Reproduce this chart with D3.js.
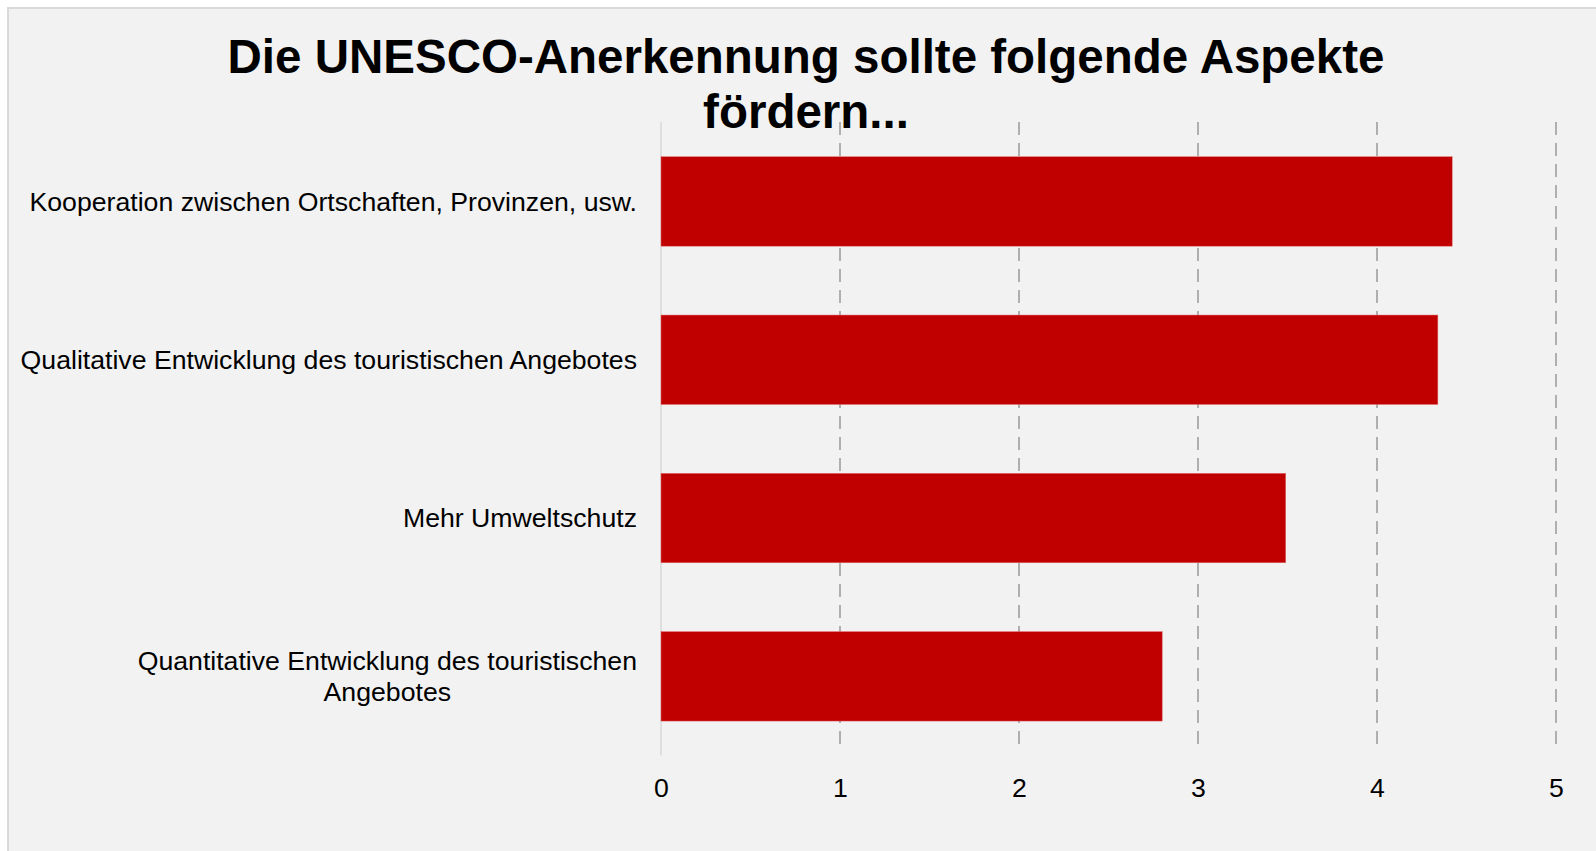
<!DOCTYPE html>
<html>
<head>
<meta charset="utf-8">
<script src="https://cdn.jsdelivr.net/npm/d3@7"></script>
<style>
  html, body { margin: 0; padding: 0; background: #ffffff; }
  svg { display: block; }
  text { font-family: "Liberation Sans", Arial, sans-serif; fill: #000; }
</style>
</head>
<body>
<svg id="chart" width="1596" height="851"></svg>
<script>
// ---- data ----
const titleLines = ["Die UNESCO-Anerkennung sollte folgende Aspekte", "fördern..."];
const categories = [
  "Kooperation zwischen Ortschaften, Provinzen, usw.",
  "Qualitative Entwicklung des touristischen Angebotes",
  "Mehr Umweltschutz",
  "Quantitative Entwicklung des touristischen\nAngebotes"
];
const values = [4.42, 4.34, 3.49, 2.80];
const tickValues = [0, 1, 2, 3, 4, 5];

// ---- layout ----
const W = 1596, H = 851;
const plot = { left: 661, right: 1556, top: 122.3, bottom: 755.5 };
const svg = d3.select("#chart");

svg.append("rect")
  .attr("x", 8).attr("y", 8)
  .attr("width", 1620).attr("height", 900)
  .attr("fill", "#f2f2f2")
  .attr("stroke", "#d9d9d9")
  .attr("stroke-width", 2);

const x = d3.scaleLinear().domain([0, 5]).range([plot.left, plot.right]);
const y = d3.scaleBand().domain(categories)
  .range([plot.top, plot.bottom])
  .paddingInner(0.435).paddingOuter(0.2175);

// gridlines
svg.append("g").selectAll("line")
  .data(tickValues)
  .join("line")
  .attr("x1", d => x(d)).attr("x2", d => x(d))
  .attr("y1", 122).attr("y2", d => d === 0 ? 755.5 : 752)
  .attr("stroke", d => d === 0 ? "#d9d9d9" : "#a6a6a6")
  .attr("stroke-width", d => d === 0 ? 1.5 : 1.75)
  .attr("stroke-dasharray", d => d === 0 ? null : "13,8");

// bars
svg.append("g").selectAll("rect")
  .data(values)
  .join("rect")
  .attr("x", x(0))
  .attr("y", (d, i) => y(categories[i]))
  .attr("width", d => x(d) - x(0))
  .attr("height", y.bandwidth())
  .attr("fill", "#c00000")
  .attr("stroke", "#e26b6b")
  .attr("stroke-width", 0.5);

// x axis tick labels
const xAxis = d3.axisBottom(x).tickValues(tickValues).tickSize(0).tickPadding(0).tickFormat(d3.format("d"));
const gx = svg.append("g").attr("transform", `translate(0,${plot.bottom})`).call(xAxis);
gx.select(".domain").remove();
gx.selectAll("text")
  .attr("y", 41.5).attr("dy", null)
  .style("font-family", '"Liberation Sans", Arial, sans-serif')
  .style("font-size", "26.67px")
  .attr("fill", "#000");

// category labels (right-aligned box, lines centred within)
const labelRight = 637;
const lineH = 31.5;
const lg = svg.append("g");
categories.forEach(cat => {
  const lines = cat.split("\n");
  const cy = y(cat) + y.bandwidth() / 2;
  const t = lg.append("text")
    .style("font-size", "26.67px")
    .attr("text-anchor", "middle");
  const tsp = lines.map((ln, k) => t.append("tspan")
    .attr("y", cy + (k - (lines.length - 1) / 2) * lineH)
    .attr("dy", "0.35em")
    .text(ln));
  const maxW = d3.max(tsp, s => s.node().getComputedTextLength());
  tsp.forEach(s => s.attr("x", labelRight - maxW / 2));
});

// title
svg.append("g").selectAll("text")
  .data(titleLines)
  .join("text")
  .attr("x", 806)
  .attr("y", (d, i) => 73 + i * 55)
  .attr("text-anchor", "middle")
  .style("font-size", "47.5px")
  .style("font-weight", "bold")
  .text(d => d);
</script>
</body>
</html>
